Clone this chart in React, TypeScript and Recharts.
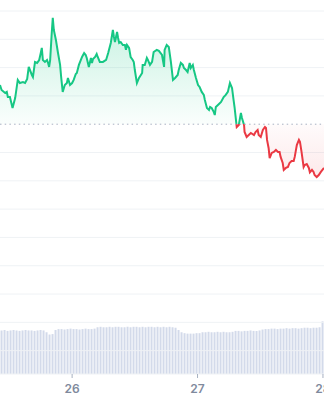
import React from "react";
import { ComposedChart, BarChart, Bar, Area, XAxis, YAxis, CartesianGrid, ReferenceLine } from "recharts";

// hours since Dec 25 00:00
const times = [
  10.2,10.5,11.2,11.5,11.7,12.1,12.6,13.1,13.6,14.0,
  14.6,15.0,15.4,15.7,16.3,16.5,16.9,17.3,17.7,18.0,
  18.2,18.4,18.8,19.2,19.4,19.6,19.8,20.1,20.3,20.5,
  20.9,21.3,21.7,21.9,22.2,22.6,23.0,23.2,23.6,24.0,
  24.3,24.7,24.9,25.3,25.9,26.3,26.6,26.8,27.2,27.6,
  27.8,28.0,28.4,28.7,28.9,29.3,29.9,30.5,30.9,31.4,
  31.8,32.0,32.2,32.6,32.8,33.0,33.3,33.7,34.1,34.3,
  34.5,34.9,35.2,35.6,35.8,36.0,36.4,36.8,37.4,37.5,
  37.9,38.3,38.5,38.9,39.3,39.6,40.2,40.6,41.2,41.6,
  41.7,42.1,42.5,42.9,43.3,43.7,44.2,44.4,44.8,45.2,
  45.4,45.8,46.1,46.5,46.7,47.1,47.3,47.7,48.1,48.4,
  48.8,49.2,49.4,49.8,50.2,50.4,50.7,51.1,51.3,51.5,
  52.1,52.5,53.0,53.4,53.8,54.2,54.6,54.9,55.1,55.5,
  55.9,56.3,56.5,56.9,57.0,57.4,57.8,58.2,58.8,59.1,
  59.5,59.7,60.1,60.5,60.9,61.1,61.3,61.6,61.8,62.2,
  62.6,63.0,63.4,63.7,63.9,64.3,64.5,64.9,65.3,65.6,
  66.0,66.4,66.6,67.0,67.4,67.6,67.9,68.3,68.5,68.9,
  69.3,69.5,69.9,70.2,70.4,70.8,71.2,71.6,72.2,
];

const prices = [
  2467.7,2464.2,2462.1,2462.8,2459.2,2459.2,2451.5,2458.5,2471.3,2469.1,
  2469.8,2469.1,2472.0,2480.5,2474.8,2473.4,2484.0,2483.3,2485.4,2490.3,
  2493.9,2485.4,2484.0,2485.4,2483.3,2480.5,2485.4,2504.5,2515.1,2506.6,
  2499.5,2490.3,2481.9,2473.4,2462.8,2467.7,2469.1,2472.7,2467.7,2469.1,
  2471.3,2475.5,2476.2,2481.9,2487.5,2490.3,2488.9,2486.8,2480.5,2486.8,
  2483.3,2486.1,2487.5,2489.6,2487.5,2484.0,2484.0,2485.4,2490.3,2497.4,
  2506.6,2501.7,2498.1,2505.2,2500.9,2497.4,2498.1,2496.0,2496.0,2492.5,
  2496.0,2493.9,2487.5,2485.4,2484.0,2478.3,2469.1,2472.7,2476.2,2481.9,
  2481.9,2486.8,2485.4,2481.9,2484.0,2491.0,2492.5,2491.8,2488.9,2480.5,
  2492.5,2496.0,2494.6,2484.0,2471.3,2472.7,2474.8,2478.3,2483.3,2481.9,
  2479.7,2478.3,2476.9,2483.3,2479.7,2481.9,2478.3,2472.7,2467.7,2466.3,
  2462.8,2460.7,2457.1,2451.5,2450.1,2452.2,2451.5,2448.7,2446.5,2452.2,
  2454.3,2455.7,2459.2,2460.7,2462.8,2469.1,2465.6,2457.1,2451.5,2438.0,
  2439.5,2447.9,2444.4,2439.5,2434.5,2431.0,2432.4,2433.8,2432.4,2434.5,
  2435.9,2432.4,2431.0,2435.9,2438.0,2437.3,2428.9,2423.2,2416.1,2419.7,
  2420.4,2421.8,2420.4,2420.4,2416.9,2412.6,2407.7,2409.1,2409.8,2412.6,
  2414.0,2414.0,2416.9,2425.3,2428.9,2427.5,2420.4,2409.8,2411.2,2411.9,
  2409.1,2406.0,2407.7,2406.3,2404.1,2402.7,2404.1,2406.3,2409.1,
];

const volumes = [
  96,97,95,96,97,96,95,96,97,96,96,95,96,97,96,
  92,87,88,
  97,99,99,98,99,100,99,99,98,99,100,99,99,100,
  103,104,103,103,104,103,104,104,103,103,104,103,104,104,103,104,103,104,104,103,104,103,104,103,104,103,102,
  97,92,90,89,89,89,90,90,
  92,92,93,92,92,93,92,93,92,92,93,
  95,95,94,95,95,96,95,95,96,
  98,99,99,100,100,99,100,100,101,100,101,101,100,101,102,102,101,102,102,103,
  116,
];

const basePrice = 2440;
const priceTicks = [2520, 2500, 2480, 2460, 2420, 2400, 2380, 2360, 2340, 2320, 2300, 2280];
const dayTicks = [24, 48, 72];
const dayLabels = ["26", "27", "28"];

const priceData = times.map((t, i) => ({ t, p: prices[i] }));
const volumeData = volumes.map((v, i) => ({ i, v }));

const GREEN = "#16c784";
const RED = "#ea3943";

const W = 324;
const H = 400;
const margin = { top: 11, right: 0, bottom: 0, left: 0 };
const volMargin = { top: 11, right: 0, bottom: 26, left: 0 };

export default function App() {
  const maxP = Math.max(...prices);
  const minP = Math.min(...prices);
  const off = (maxP - basePrice) / (maxP - minP);
  return (
    <div style={{ position: "absolute", left: 0, top: 0, width: W, height: H, background: "#fff" }}>
      <div style={{ position: "absolute", left: 0, top: 0 }}>
        <BarChart width={W} height={H} data={volumeData} margin={volMargin} barCategoryGap="18%">
          <XAxis dataKey="i" hide />
          <YAxis hide domain={[0, 800]} />
          <Bar dataKey="v" fill="#d3daea" isAnimationActive={false} />
        </BarChart>
      </div>
      <div style={{ position: "absolute", left: 0, top: 0 }}>
        <ComposedChart width={W} height={H} data={priceData} margin={margin}>
          <defs>
            <linearGradient id="splitStroke" x1="0" y1="0" x2="0" y2="1">
              <stop offset={0} stopColor={GREEN} />
              <stop offset={off} stopColor={GREEN} />
              <stop offset={off} stopColor={RED} />
              <stop offset={1} stopColor={RED} />
            </linearGradient>
            <linearGradient id="splitFill" x1="0" y1="0" x2="0" y2="1">
              <stop offset={0} stopColor={GREEN} stopOpacity={0.24} />
              <stop offset={off} stopColor={GREEN} stopOpacity={0.02} />
              <stop offset={off} stopColor={RED} stopOpacity={0.02} />
              <stop offset={1} stopColor={RED} stopOpacity={0.11} />
            </linearGradient>
          </defs>
          <CartesianGrid vertical={false} stroke="#eff2f5" />
          <XAxis
            dataKey="t"
            type="number"
            domain={[10.2, 72.2]}
            ticks={dayTicks}
            interval={0}
            tickFormatter={(v: number) => dayLabels[dayTicks.indexOf(v)]}
            axisLine={false}
            tickLine={{ stroke: "#a7b1c2" }}
            tickSize={4}
            tickMargin={6}
            height={26}
            tick={{ fill: "#808a9d", fontSize: 12, fontWeight: 600, fontFamily: "Inter" }}
          />
          <YAxis hide domain={[2263.5, 2520]} ticks={priceTicks} />
          <ReferenceLine y={basePrice} stroke="#a7b1c2" strokeDasharray="1.5 3.2" strokeWidth={1} />
          <Area
            type="linear"
            dataKey="p"
            baseValue={basePrice}
            stroke="url(#splitStroke)"
            strokeWidth={2}
            fill="url(#splitFill)"
            fillOpacity={1}
            dot={false}
            activeDot={false}
            isAnimationActive={false}
          />
        </ComposedChart>
      </div>
    </div>
  );
}
